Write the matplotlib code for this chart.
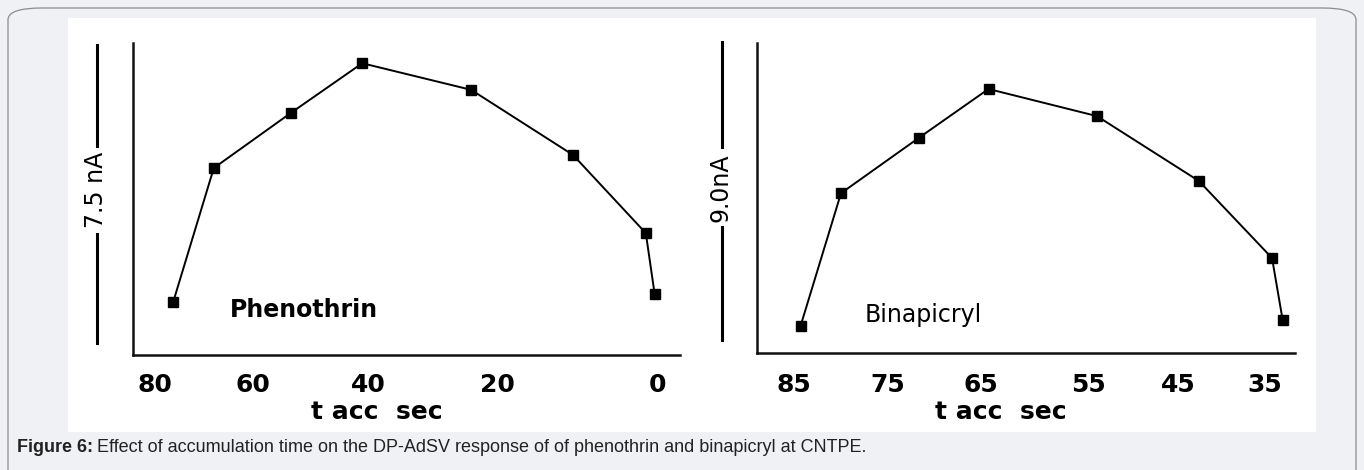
import numpy as np
import matplotlib
matplotlib.use("Agg")
import matplotlib.pyplot as plt
from matplotlib.patches import FancyBboxPatch, Rectangle
from matplotlib import transforms

# accumulation time (s) and peak current (nA)
phen_t = [76.3, 68.0, 53.4, 41.0, 24.0, 10.5, 1.4, 0.3]
phen_i = [1.33, 4.71, 6.10, 7.35, 6.68, 5.04, 3.07, 1.54]
bina_t = [84.3, 80.0, 71.7, 64.3, 54.0, 42.6, 34.2, 33.0]
bina_i = [0.82, 4.83, 6.50, 7.98, 7.16, 5.20, 2.87, 1.00]

phen_ticks = [80, 60, 40, 20, 0]
bina_ticks = [85, 75, 65, 55, 45, 35]
phen_bar = 7.5
bina_bar = 9.0

# the time axes of the original plots are not evenly spaced:
# axis fraction (from the left) at which each time value sits
phen_axis_t = [84.5, 80, 60, 40, 20, 0, -2.9]
phen_axis_f = [0.0, 0.0402, 0.2194, 0.4296, 0.6654, 0.9580, 1.0]
bina_axis_t = [88.9, 85, 75, 65, 55, 45, 35, 31.6]
bina_axis_f = [0.0, 0.0688, 0.2435, 0.4164, 0.6152, 0.7825, 0.9442, 1.0]


def uneven_scale(ts, fs):
    # monotonic increasing mapping time -> 1 - fraction, used with inverted xlim
    ts = np.asarray(ts, float)
    gs = 1.0 - np.asarray(fs, float)
    o = np.argsort(ts)

    def fwd(x):
        return np.interp(x, ts[o], gs[o])

    def inv(y):
        return np.interp(y, gs[o], ts[o])

    return fwd, inv


fig = plt.figure(figsize=(13.64, 4.70), dpi=100)
fig.patch.set_facecolor("#eff1f4")

# page frame and white figure panel
fig.patches.append(FancyBboxPatch((8 / 1364, -0.05), 1348 / 1364, 1.033,
                                  boxstyle="round,pad=0,rounding_size=0.025",
                                  transform=fig.transFigure, fc="#eff1f4",
                                  ec="#8c8c8c", lw=0.9, zorder=0))
fig.patches.append(Rectangle((68 / 1364, 1 - 432 / 470), 1248 / 1364, 414 / 470,
                             transform=fig.transFigure, fc="white", ec="none",
                             zorder=1))

tick_font = dict(family="DejaVu Sans", weight="bold", size=18)


def panel(rect, t, i, ticks, axis_t, axis_f, ymax, bar, bar_lo, bar_txt,
          name, name_xy, name_w, xlab_xy, pad):
    ax = fig.add_axes(rect)
    ax.set_zorder(3)
    ax.set_facecolor("none")
    fwd, inv = uneven_scale(axis_t, axis_f)
    ax.set_xscale("function", functions=(fwd, inv))
    ax.set_xlim(axis_t[0], axis_t[-1])
    ax.set_ylim(0, ymax)
    ax.plot(t, i, color="black", lw=1.4, marker="s", ms=7.5, mfc="black",
            mec="black", clip_on=False)
    ax.set_xticks(ticks)
    ax.set_xticklabels([str(v) for v in ticks], fontdict=tick_font)
    ax.xaxis.set_minor_locator(matplotlib.ticker.NullLocator())
    ax.tick_params(axis="x", length=0, pad=pad)
    ax.set_yticks([])
    for s in ("top", "right"):
        ax.spines[s].set_visible(False)
    for s in ("left", "bottom"):
        ax.spines[s].set_linewidth(1.8)
        ax.spines[s].set_color("#111111")

    # current scale bar on the left
    tr = transforms.blended_transform_factory(ax.transAxes, ax.transData)
    ax.plot([-0.065, -0.065], [bar_lo, bar_lo + bar], color="black", lw=2.2,
            transform=tr, clip_on=False)
    ax.text(-0.068, bar_lo + bar / 2 + 0.1, bar_txt, transform=tr, rotation=90,
            ha="center", va="center", fontsize=17, family="DejaVu Sans",
            bbox=dict(fc="white", ec="none", pad=3))

    ax.text(name_xy[0], name_xy[1], name, transform=ax.transAxes, ha="left",
            va="center", fontsize=17, family="DejaVu Sans", weight=name_w)
    ax.text(xlab_xy[0], xlab_xy[1], "t acc  sec", transform=ax.transAxes,
            ha="center", va="baseline", **tick_font)
    return ax


panel([133 / 1364, 1 - 355 / 470, 547 / 1364, 312 / 470],
      phen_t, phen_i, phen_ticks, phen_axis_t, phen_axis_f, 7.86,
      phen_bar, 0.30, "7.5 nA", "Phenothrin", (0.177, 0.144), "bold",
      (0.446, -0.205), 13)
panel([757 / 1364, 1 - 353 / 470, 538 / 1364, 310 / 470],
      bina_t, bina_i, bina_ticks, bina_axis_t, bina_axis_f, 9.37,
      bina_bar, 0.39, "9.0nA", "Binapicryl", (0.20, 0.123), "normal",
      (0.4535, -0.213), 14.5)

fig.text(17 / 1364, 1 - 447 / 470, "Figure 6:", ha="left", va="center",
         fontsize=13, family="Liberation Sans", weight="bold", color="#222222")
fig.text(97 / 1364, 1 - 447 / 470,
         "Effect of accumulation time on the DP-AdSV response of of phenothrin "
         "and binapicryl at CNTPE.", ha="left", va="center", fontsize=13,
         family="Liberation Sans", color="#222222")

fig.savefig("out.png", dpi=100, facecolor=fig.get_facecolor())
